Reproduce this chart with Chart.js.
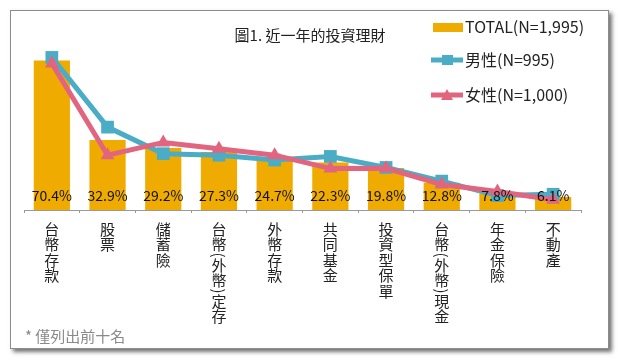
<!DOCTYPE html>
<html>
<head>
<meta charset="utf-8">
<script src="https://cdn.jsdelivr.net/npm/chart.js@4"></script>
<style>
  html, body { margin: 0; padding: 0; background: #fff; }
  #box {
    position: absolute; left: 10px; top: 10px;
    width: 597px; height: 337px;
    border: 1px solid #8c8c8c;
    background: #fff;
    box-shadow: 3px 3px 4px rgba(0,0,0,0.55);
  }
  #box canvas { display: block; }
</style>
</head>
<body>
<div id="box"><canvas id="c" width="597" height="337"></canvas></div>
<script>
// Chart data
var categories = ['台幣存款', '股票', '儲蓄險', '台幣(外幣)定存', '外幣存款',
    '共同基金', '投資型保單', '台幣(外幣)現金', '年金保險', '不動產'];
var totalValues = [70.4, 32.9, 29.2, 27.3, 24.7, 22.3, 19.8, 12.8, 7.8, 6.1];
var maleValues = [71.8, 39.0, 26.5, 25.8, 23.5, 25.2, 20.0, 13.6, 6.8, 7.4];
var femaleValues = [69.0, 25.8, 31.8, 28.8, 25.8, 19.5, 19.6, 12.0, 8.7, 4.8];
var seriesNames = ['TOTAL(N=1,995)', '男性(N=995)', '女性(N=1,000)'];
var chartTitle = '圖1. 近一年的投資理財';
var footNote = '* 僅列出前十名';

var FONT = '"Noto Sans CJK TC", "Noto Sans", sans-serif';
var orange = '#f0ab00';
var teal = '#4bacc6';
var pink = '#e2657f';

// vertical category text, parentheses turned sideways like the original
function drawVerticalLabel(ctx, text, x, y) {
    for (var k = 0; k < text.length; k++) {
        var ch = text[k];
        if (ch === '(' || ch === ')') {
            ctx.save();
            ctx.translate(x, y + 2);
            ctx.rotate(Math.PI / 2);
            ctx.fillText(ch, 0, 0);
            ctx.restore();
            y += 5;
        } else {
            ctx.fillText(ch, x, y + 7);
            y += 15.5;
        }
    }
}

// Draws title, legend, value labels, category text and footnote
var decorPlugin = {
    id: 'decor',
    afterDatasetsDraw: function(chart) {
        var ctx = chart.ctx;
        ctx.save();
        var barMeta = chart.getDatasetMeta(0);
        ctx.font = '14px ' + FONT;
        ctx.fillStyle = '#111';
        ctx.textAlign = 'center';
        ctx.textBaseline = 'middle';
        barMeta.data.forEach(function(bar, i) {
            ctx.fillText(totalValues[i].toFixed(1) + '%', bar.x, chart.chartArea.bottom - 14);
        });
        ctx.restore();
    },
    afterDraw: function(chart) {
        var ctx = chart.ctx;
        ctx.save();
        ctx.textBaseline = 'middle';

        // category labels
        var xs = chart.scales.x;
        ctx.font = '15px ' + FONT;
        ctx.fillStyle = '#222';
        ctx.textAlign = 'center';
        categories.forEach(function(c, i) {
            drawVerticalLabel(ctx, c, xs.getPixelForTick(i), chart.chartArea.bottom + 12);
        });

        // title
        ctx.font = '15px ' + FONT;
        ctx.fillText(chartTitle, 299, 24);

        // legend
        ctx.textAlign = 'left';
        ctx.font = '16px ' + FONT;
        ctx.fillStyle = orange;
        ctx.fillRect(422, 12, 30, 9);
        ctx.fillStyle = '#222';
        ctx.fillText(seriesNames[0], 454, 16);

        ctx.strokeStyle = teal;
        ctx.lineWidth = 5;
        ctx.beginPath(); ctx.moveTo(420, 49); ctx.lineTo(452, 49); ctx.stroke();
        ctx.fillStyle = teal;
        ctx.fillRect(431, 44, 11, 10);
        ctx.fillStyle = '#222';
        ctx.fillText(seriesNames[1], 454, 49);

        ctx.strokeStyle = pink;
        ctx.beginPath(); ctx.moveTo(420, 84); ctx.lineTo(452, 84); ctx.stroke();
        ctx.fillStyle = pink;
        ctx.beginPath(); ctx.moveTo(436, 78); ctx.lineTo(442, 89); ctx.lineTo(430, 89); ctx.closePath(); ctx.fill();
        ctx.fillStyle = '#222';
        ctx.fillText(seriesNames[2], 454, 84);

        // footnote
        ctx.font = '15px ' + FONT;
        ctx.fillStyle = '#8a8a8a';
        ctx.fillText(footNote, 14, 325);
        ctx.restore();
    }
};

new Chart(document.getElementById('c'), {
    type: 'bar',
    data: {
        labels: categories,
        datasets: [
            {
                type: 'bar',
                label: seriesNames[0],
                data: totalValues,
                backgroundColor: orange,
                borderWidth: 0,
                categoryPercentage: 1.0,
                barPercentage: 0.65,
                order: 3
            },
            {
                type: 'line',
                label: seriesNames[1],
                data: maleValues,
                borderColor: teal,
                backgroundColor: teal,
                borderWidth: 5,
                pointStyle: 'rect',
                pointRadius: 9,
                pointBorderWidth: 0,
                tension: 0,
                order: 2
            },
            {
                type: 'line',
                label: seriesNames[2],
                data: femaleValues,
                borderColor: pink,
                backgroundColor: pink,
                borderWidth: 5,
                pointStyle: 'triangle',
                pointRadius: 8,
                pointBorderWidth: 0,
                tension: 0,
                order: 1
            }
        ]
    },
    options: {
        responsive: false,
        animation: false,
        layout: {
            padding: { top: 29, left: 13, right: 27, bottom: 0 }
        },
        plugins: {
            legend: { display: false },
            tooltip: { enabled: false },
            title: { display: false }
        },
        scales: {
            x: {
                offset: true,
                border: { display: true, color: '#9a9a9a', width: 1 },
                grid: { display: true, drawOnChartArea: false, offset: true, tickLength: 3, color: '#9a9a9a' },
                ticks: { display: false },
                afterFit: function(scale) { scale.height = 138; }
            },
            y: {
                display: false,
                min: 0,
                max: 80
            }
        }
    },
    plugins: [decorPlugin]
});
</script>
</body>
</html>
